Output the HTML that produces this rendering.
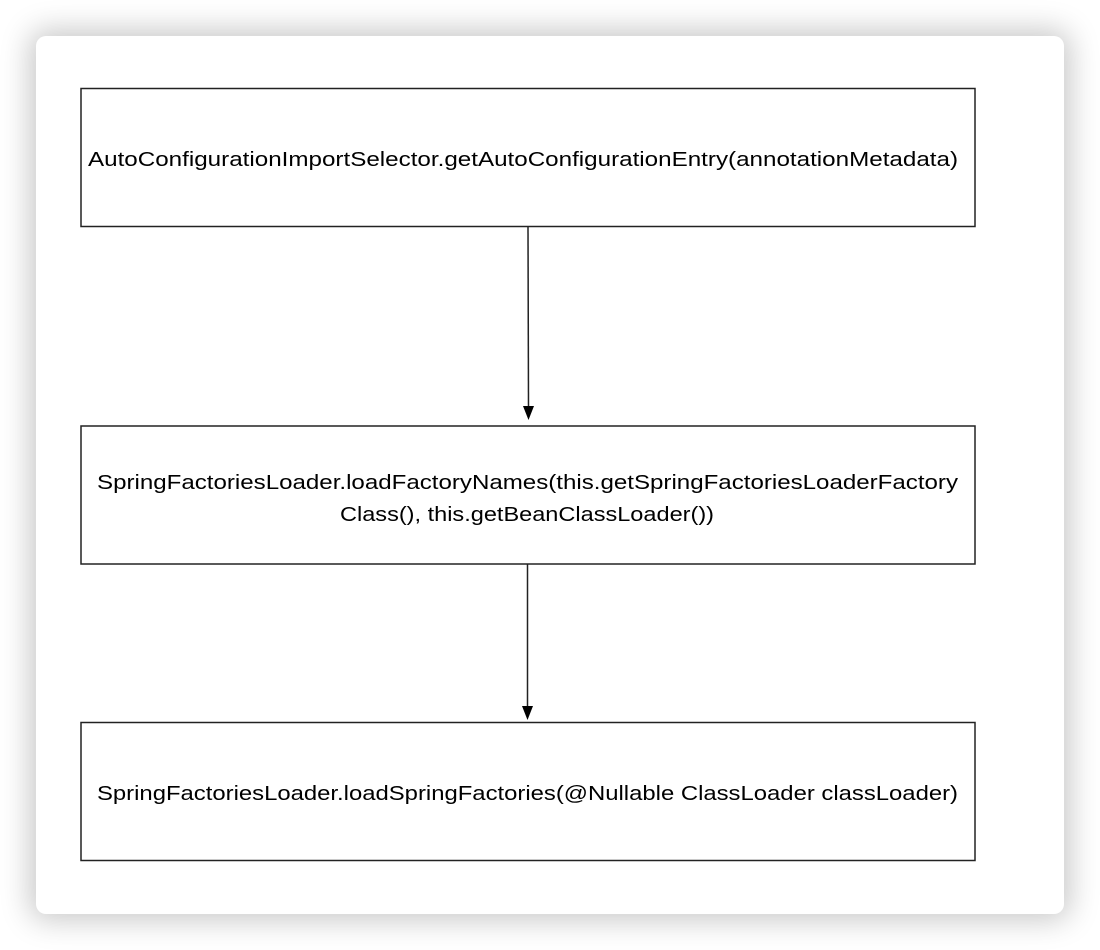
<!DOCTYPE html>
<html><head><style>
html,body{margin:0;padding:0;background:#fff;width:1100px;height:950px;overflow:hidden}
.card{position:absolute;left:36px;top:36px;width:1028px;height:878px;background:#fff;border-radius:10px;box-shadow:0 0 30px 6px rgba(0,0,0,0.22)}
svg{position:absolute;left:0;top:0}
text{font-family:"Liberation Sans",Arial,sans-serif;font-size:20px;fill:#000}
</style></head><body>
<div class="card"></div>
<svg width="1100" height="950" viewBox="0 0 1100 950">
<g fill="none" stroke="#222" stroke-width="1.5">
<rect x="81" y="88.5" width="894" height="138"/>
<rect x="81" y="426" width="894" height="138"/>
<rect x="81" y="722.5" width="894" height="138"/>
<line x1="528" y1="227" x2="528.5" y2="408"/>
<line x1="527.5" y1="564" x2="527.5" y2="706"/>
</g>
<polygon points="523,406 534,406 528.5,420" fill="#000"/>
<polygon points="522,706 533,706 527.5,720" fill="#000"/>
<text x="88" y="166" textLength="870" lengthAdjust="spacingAndGlyphs">AutoConfigurationImportSelector.getAutoConfigurationEntry(annotationMetadata)</text>
<text x="97" y="489" textLength="861" lengthAdjust="spacingAndGlyphs">SpringFactoriesLoader.loadFactoryNames(this.getSpringFactoriesLoaderFactory</text>
<text x="340" y="521" textLength="374" lengthAdjust="spacingAndGlyphs">Class(), this.getBeanClassLoader())</text>
<text x="97" y="800" textLength="861" lengthAdjust="spacingAndGlyphs">SpringFactoriesLoader.loadSpringFactories(@Nullable ClassLoader classLoader)</text>
</svg>
</body></html>
